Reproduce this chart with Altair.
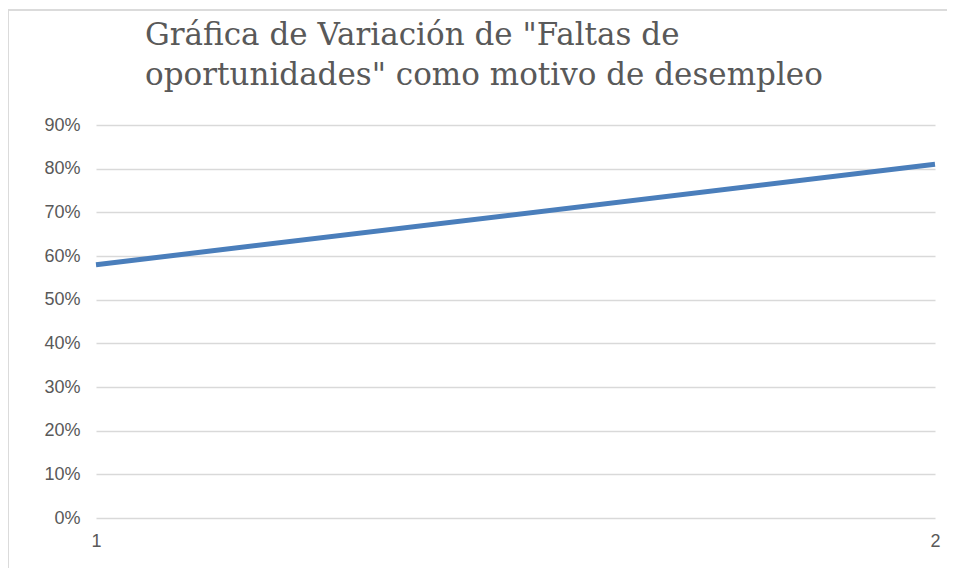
import altair as alt
import pandas as pd

periods = [1, 2]
values = [0.58, 0.81]
y_ticks = [0, 0.1, 0.2, 0.3, 0.4, 0.5, 0.6, 0.7, 0.8, 0.9]
title_lines = ['Gráfica de Variación de "Faltas de', 'oportunidades" como motivo de desempleo']

df = pd.DataFrame({"periodo": periods, "valor": values})
title_df = pd.DataFrame({"linea": [0, 1], "texto": title_lines})

line = alt.Chart(df).mark_line(color="#4a7ebb", strokeWidth=5, strokeCap="butt").encode(
    x=alt.X("periodo:Q",
            scale=alt.Scale(domain=[1, 2], nice=False, zero=False),
            axis=alt.Axis(values=periods, format="d", title=None, grid=False,
                          domain=False, ticks=False, labelPadding=14,
                          labelFontSize=18, labelColor="#595959",
                          labelFont="Liberation Sans", labelFlush=False)),
    y=alt.Y("valor:Q",
            scale=alt.Scale(domain=[0, 0.9], nice=False),
            axis=alt.Axis(values=y_ticks, format=".0%", title=None, grid=True,
                          gridColor="#d9d9d9", gridWidth=1.5, domain=False, ticks=False,
                          labelPadding=16, labelFontSize=18, labelColor="#595959",
                          labelFont="Liberation Sans")),
)

title1 = alt.Chart(title_df).transform_filter("datum.linea == 0").mark_text(
    align="left", baseline="alphabetic", font="DejaVu Serif", fontSize=31,
    color="#595959", clip=False).encode(x=alt.value(49), y=alt.value(-80), text="texto:N")
title2 = alt.Chart(title_df).transform_filter("datum.linea == 1").mark_text(
    align="left", baseline="alphabetic", font="DejaVu Serif", fontSize=31,
    color="#595959", clip=False).encode(x=alt.value(49), y=alt.value(-40), text="texto:N")

# faint outer chart frame (left and top edges)
frame_left = alt.Chart(df).mark_rule(color="#d9d9d9", strokeWidth=1.5, clip=False).encode(
    x=alt.value(-88), y=alt.value(-115), y2=alt.value(470))
frame_top = alt.Chart(df).mark_rule(color="#d9d9d9", strokeWidth=1.5, clip=False).encode(
    x=alt.value(-88), x2=alt.value(851), y=alt.value(-115))

chart = alt.layer(frame_left, frame_top, title1, title2, line).properties(
    width=839, height=393,
    padding={"left": 88, "top": 117, "right": 12, "bottom": 50},
    autosize=alt.AutoSizeParams(type="none"),
).configure_view(stroke=None)

chart.save("out.html", embed_options={"renderer": "svg", "actions": False})
